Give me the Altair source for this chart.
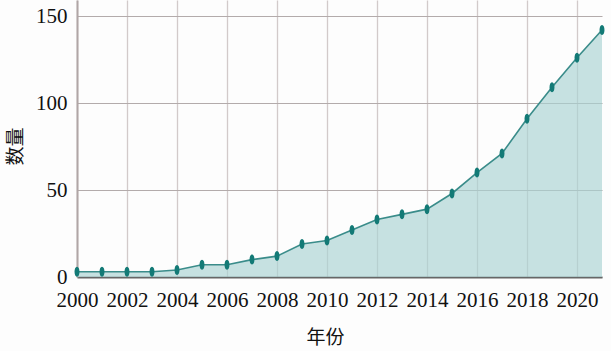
import altair as alt
import pandas as pd

years = list(range(2000, 2022))
counts = [3, 3, 3, 3, 4, 7, 7, 10, 12, 19, 21, 27, 33, 36, 39, 48, 60, 71, 91, 109, 126, 142]

df = pd.DataFrame({"year": years, "count": counts})

FONT = "Liberation Serif"
CJK = "Noto Sans CJK SC"

x = alt.X("year:Q", scale=alt.Scale(domain=[2000, 2021], nice=False, zero=False),
          axis=alt.Axis(title="年份", values=list(range(2000, 2021, 2)), format="d",
                        labelFont=FONT, labelFontSize=21, labelColor="#111",
                        labelPadding=12, ticks=False, domain=True,
                        domainColor="#666", domainWidth=2,
                        grid=True, gridColor="#d2caca", gridWidth=1.3,
                        titleFont=CJK, titleFontSize=19, titleFontWeight="normal",
                        titleColor="#111", titleX=248, titleY=51, titleAnchor="middle",
                        titleBaseline="top",
                        labelOverlap=False, labelFlush=False))
y = alt.Y("count:Q", scale=alt.Scale(domain=[0, 159.2], nice=False),
          axis=alt.Axis(title="数量", values=[0, 50, 100, 150],
                        labelFont=FONT, labelFontSize=21, labelColor="#111",
                        labelPadding=10, labelBaseline="middle", ticks=False, domain=True,
                        domainColor="#b0a6a6", domainWidth=2,
                        grid=True, gridColor="#b3abab", gridWidth=1.2,
                        titleFont=CJK, titleFontSize=19, titleFontWeight="normal",
                        titleColor="#111", titleX=-62, titleY=146,
                        titleAlign="center", titleBaseline="middle"))

base = alt.Chart(df)
area = base.mark_area(color="#a9d3d3", opacity=0.65).encode(x=x, y=y)
line = base.mark_line(color="#3a8c8a", strokeWidth=1.6).encode(x=x, y=y)
pts = base.mark_point(
    shape="M0,-1 C0.66,-1 0.66,1 0,1 C-0.66,1 -0.66,-1 0,-1 Z",
    size=100, filled=True, color="#137a76", opacity=1
).encode(x=x, y=y)

chart = (area + line + pts).properties(
    width=525, height=277,
    autosize=alt.AutoSizeParams(type="none"),
    padding={"left": 77, "top": 0, "right": 9, "bottom": 74},
    background="#fdfdfd",
).configure_view(stroke=None)

chart.save("out.html", embed_options={"renderer": "svg", "actions": False})
